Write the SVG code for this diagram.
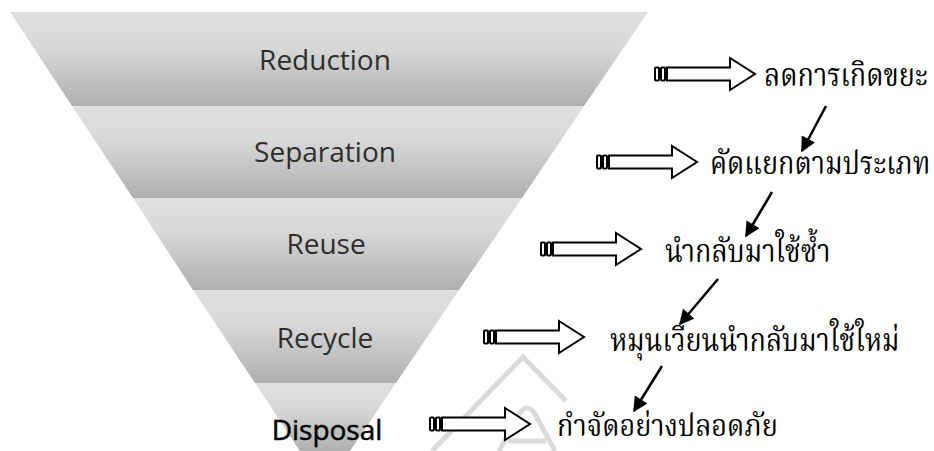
<svg xmlns="http://www.w3.org/2000/svg" width="934" height="451" viewBox="0 0 934 451">
<defs>
<linearGradient id="band" x1="0" y1="0" x2="0" y2="1">
<stop offset="0" stop-color="#dfdfdf"/>
<stop offset="0.35" stop-color="#d9d9d9"/>
<stop offset="1" stop-color="#afafaf"/>
</linearGradient>
<marker id="ah" viewBox="0 0 10 10" refX="9" refY="5" markerWidth="6.5" markerHeight="6" orient="auto" markerUnits="strokeWidth">
<path d="M0,0 L10,5 L0,10 Z" fill="#000"/>
</marker>
<g id="blk" fill="#fff" stroke="#000" stroke-width="2">
<rect x="0" y="-6.5" width="4" height="13" rx="1"/>
<rect x="6" y="-6.5" width="4" height="13" rx="1"/>
<path d="M12,-6.5 H75 V-16 L100,0 L75,16 V6.5 H12 Z"/>
</g>
</defs>
<style>
.band{fill:url(#band)}
.lbl{font-family:"Open Sans","DejaVu Sans",sans-serif;font-size:28px;fill:#2e2e2e;text-anchor:middle}
.th{font-family:"Norasi","Kinnari","Noto Serif Thai","Laksaman","Noto Sans Thai","Garuda","Loma","DejaVu Sans",serif;font-size:27px;fill:#000}
.thin{stroke:#000;stroke-width:2.5;fill:none;marker-end:url(#ah)}
.wm{fill:none;stroke:#dadada;stroke-width:5;stroke-linejoin:miter}
</style>
<rect width="934" height="451" fill="#fff"/>
<g id="watermark">
<polyline class="wm" points="432,451 523,357 566,401"/>
<path class="wm" d="M499,451 L519,414 Q527,402 535,414 L555,451"/>
<line class="wm" x1="508" y1="441" x2="546" y2="441" stroke-width="3"/>
</g>
<g id="reduction"><polygon class="band" points="10,12 648,12 584,106 72,106"/><text class="lbl" x="325" y="70">Reduction</text></g>
<g id="separation"><polygon class="band" points="72,106 584,106 522,198 133,198"/><text class="lbl" x="325" y="162">Separation</text></g>
<g id="reuse"><polygon class="band" points="133,198 522,198 459,290 193,290"/><text class="lbl" x="326" y="254">Reuse</text></g>
<g id="recycle"><polygon class="band" points="193,290 459,290 396,383 255,383"/><text class="lbl" x="325" y="348">Recycle</text></g>
<g id="disposal"><polygon class="band" points="255,383 396,383 350,451 300,451"/><text class="lbl" x="327" y="440" style="fill:#000;stroke:#000;stroke-width:0.5">Disposal</text></g>
<g id="t1"><use href="#blk" x="655" y="74"/><text class="th" transform="translate(764,86) scale(1,1.18)">ลดการเกิดขยะ</text></g>
<g id="t2"><use href="#blk" x="597" y="162"/><text class="th" transform="translate(710,174) scale(1,1.18)">คัดแยกตามประเภท</text></g>
<g id="t3"><use href="#blk" x="541" y="249"/><text class="th" transform="translate(665,262) scale(1,1.18)">นำกลับมาใช้ซ้ำ</text></g>
<g id="t4"><use href="#blk" x="484" y="337"/><text class="th" transform="translate(610,351) scale(1,1.18)">หมุนเวียนนำกลับมาใช้ใหม่</text></g>
<g id="t5"><use href="#blk" x="430" y="424"/><text class="th" transform="translate(557,436) scale(1,1.12)">กำจัดอย่างปลอดภัย</text></g>
<g id="connectors">
<line class="thin" x1="826" y1="106" x2="802" y2="151"/>
<line class="thin" x1="772" y1="192" x2="746" y2="236"/>
<line class="thin" x1="718" y1="279" x2="680" y2="324"/>
<line class="thin" x1="662" y1="366" x2="634" y2="411"/>
</g>
</svg>
